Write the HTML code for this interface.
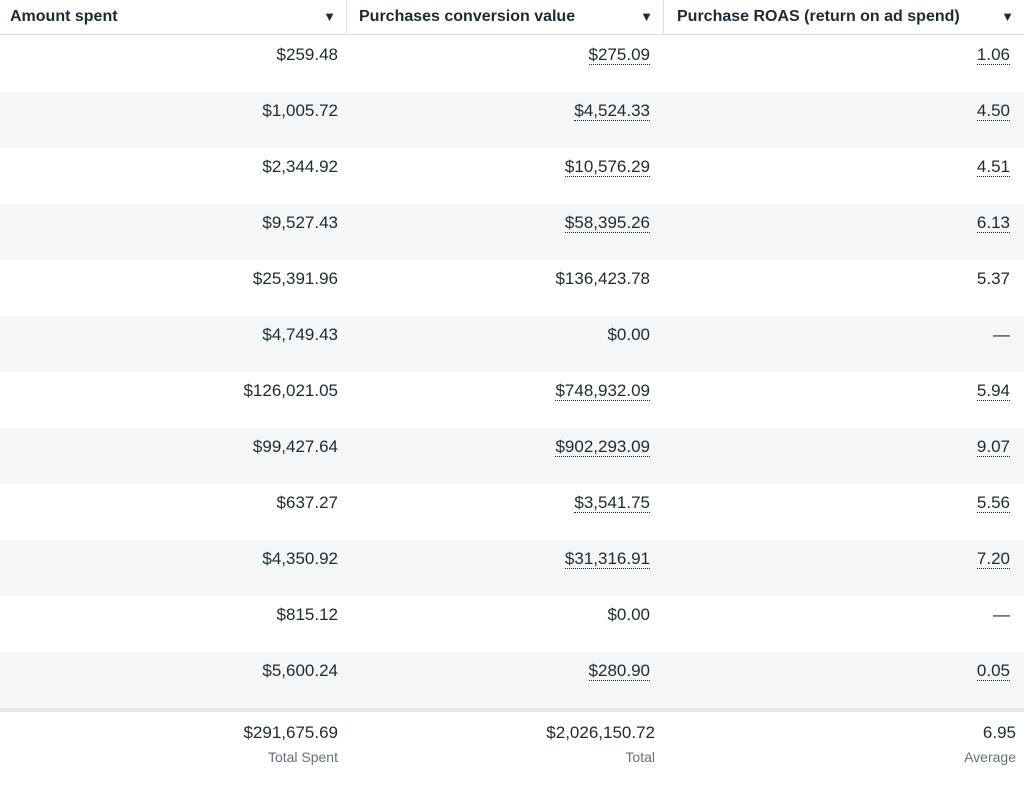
<!DOCTYPE html>
<html><head><meta charset="utf-8"><style>
body{margin:0;width:1024px;height:794px;background:#fff;font-family:"Liberation Sans",sans-serif;color:#1c2b33;position:relative;overflow:hidden}
.hdr{position:absolute;top:0;height:35px;border-bottom:1px solid #dadde1;font-weight:bold;font-size:16px;line-height:33px;box-sizing:border-box}
.hdr span.a{position:absolute;right:10px;top:0;font-size:13px}
.row{position:absolute;left:0;width:1024px;height:56px}
.c{position:absolute;top:9px;font-size:17px;text-align:right;line-height:20px}
.u{border-bottom:1px dotted #1c2b33;padding-bottom:0}
.f{position:absolute;text-align:right}
</style></head><body>
<div class="hdr" style="left:0;width:347px;padding-left:10px;border-right:1px solid #dadde1">Amount spent<span class="a">▼</span></div>
<div class="hdr" style="left:347px;width:317px;padding-left:12px;border-right:1px solid #dadde1">Purchases conversion value<span class="a">▼</span></div>
<div class="hdr" style="left:664px;width:360px;padding-left:13px">Purchase ROAS (return on ad spend)<span class="a">▼</span></div>
<div id="rows"></div>
<div style="position:absolute;left:0;top:708px;width:1024px;height:4px;background:#e4e6e9"></div>
<div class="f" style="right:686px;top:723px;font-size:17px">$291,675.69</div>
<div class="f" style="right:686px;top:749px;font-size:14px;color:#65707a">Total Spent</div>
<div class="f" style="right:369px;top:723px;font-size:17px">$2,026,150.72</div>
<div class="f" style="right:369px;top:749px;font-size:14px;color:#65707a">Total</div>
<div class="f" style="right:8px;top:723px;font-size:17px">6.95</div>
<div class="f" style="right:8px;top:749px;font-size:14px;color:#65707a">Average</div>
<script>
const spent=["$259.48","$1,005.72","$2,344.92","$9,527.43","$25,391.96","$4,749.43","$126,021.05","$99,427.64","$637.27","$4,350.92","$815.12","$5,600.24"];
const values=["$275.09","$4,524.33","$10,576.29","$58,395.26","$136,423.78","$0.00","$748,932.09","$902,293.09","$3,541.75","$31,316.91","$0.00","$280.90"];
const roas=["1.06","4.50","4.51","6.13","5.37","—","5.94","9.07","5.56","7.20","—","0.05"];
const underlined=[true,true,true,true,false,false,true,true,true,true,false,true];
const host=document.getElementById('rows');
spent.forEach((s,i)=>{
  const r=document.createElement('div');
  r.className='row';
  
  
  r.style.top=(36+i*56)+'px';
  r.style.background=i%2?'#f5f6f7':'#fff';
  const u=underlined[i]?' class="u"':'';
  r.innerHTML='<div class="c" style="right:686px">'+s+'</div><div class="c" style="right:374px"><span'+u+'>'+values[i]+'</span></div><div class="c" style="right:14px"><span'+u+'>'+roas[i]+'</span></div>';
  host.appendChild(r);
});
</script>
</body></html>
